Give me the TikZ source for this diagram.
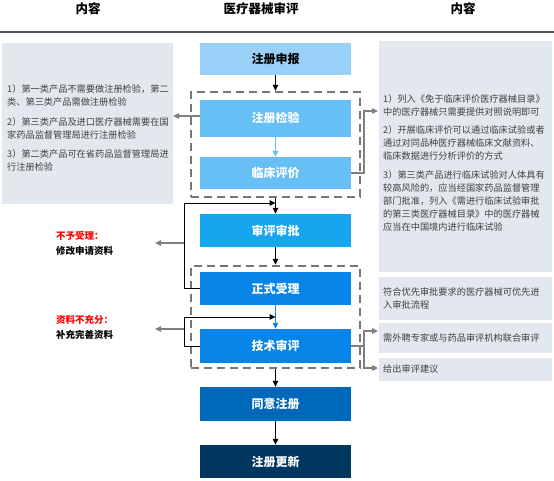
\documentclass[tikz,border=0pt]{standalone}
\usepackage{fontspec}
\setmainfont{Noto Sans CJK SC}
\usetikzlibrary{arrows.meta}
\definecolor{sidegray}{HTML}{E3E8EF}
\definecolor{sidetext}{HTML}{404040}
\definecolor{cA}{HTML}{99D0F7}
\definecolor{cB}{HTML}{66BFF5}
\definecolor{cC}{HTML}{16A6F0}
\definecolor{cD}{HTML}{0784E7}
\definecolor{cE}{HTML}{0068B8}
\definecolor{cF}{HTML}{003761}
\definecolor{dashgray}{HTML}{767676}
\definecolor{arrgray}{HTML}{808080}
\definecolor{hline}{HTML}{555555}
\tikzset{
  flowbox/.style={minimum width=151pt, inner sep=0pt, font=\fontsize{12}{14}\selectfont\bfseries, text=white},
  dashbox/.style={draw=dashgray, line width=2.5pt, dash pattern=on 8pt off 5pt, minimum width=169pt, inner sep=0pt},
  sidebox/.style={fill=sidegray, inner sep=0pt},
  sidepara/.style={anchor=north west, inner sep=0pt, align=left, text=sidetext, font=\fontsize{9.2}{13}\selectfont},
  sideline/.style={anchor=west, inner sep=0pt, text=sidetext, font=\fontsize{9.2}{13}\selectfont},
  head/.style={inner sep=0pt, font=\fontsize{12.5}{14}\selectfont\bfseries},
  blk/.style={draw=black, line width=1pt},
  blkarrow/.style={blk, -{Triangle[length=6pt,width=5.5pt]}},
  gry/.style={draw=arrgray, line width=1.2pt},
  gryarrow/.style={gry, -{Triangle[length=6pt,width=5.5pt]}},
  lbl/.style={anchor=north west, inner sep=0pt, align=left, font=\fontsize{9.5}{15}\selectfont\bfseries},
}
\begin{document}
\begin{tikzpicture}[x=1pt,y=-1pt]
\useasboundingbox (0,0) rectangle (554,480);
% header
\node[head] (h1) at (88,9) {内容};
\node[head] (h2) at (261,9) {医疗器械审评};
\node[head] (h3) at (463,9) {内容};
\coordinate (hl1) at (0,32);
\coordinate (hl2) at (554,32);
\draw[draw=hline, line width=2pt] (hl1) -- (hl2);

% side boxes
\node[sidebox, minimum width=171pt, minimum height=161pt] (L) at (87.5,123.5) {};
\node[sidebox, minimum width=173pt, minimum height=231pt] (R1) at (465.5,156.5) {};
\node[sidebox, minimum width=173pt, minimum height=43pt] (R2) at (465.5,298.5) {};
\node[sidebox, minimum width=173pt, minimum height=30pt] (R3) at (465.5,338) {};
\node[sidebox, minimum width=173pt, minimum height=23pt] (R4) at (465.5,369.5) {};

% left texts
\node[sidepara] (lt1) at (7,84) {1）第一类产品不需要做注册检验，第二\\类、第三类产品需做注册检验};
\node[sidepara] (lt2) at (7,117) {2）第三类产品及进口医疗器械需要在国\\家药品监督管理局进行注册检验};
\node[sidepara] (lt3) at (7,149) {3）第二类产品可在省药品监督管理局进\\行注册检验};

% right texts
\node[sidepara] (rt1) at (383,94) {1）列入《免于临床评价医疗器械目录》\\中的医疗器械只需要提供对照说明即可};
\node[sidepara] (rt2) at (383,125) {2）开展临床评价可以通过临床试验或者\\通过对同品种医疗器械临床文献资料、\\临床数据进行分析评价的方式};
\node[sidepara] (rt3) at (383,170) {3）第三类产品进行临床试验对人体具有\\较高风险的，应当经国家药品监督管理\\部门批准，列入《需进行临床试验审批\\的第三类医疗器械目录》中的医疗器械\\应当在中国境内进行临床试验};
\node[sidepara] (rt4) at (383,288) {符合优先审批要求的医疗器械可优先进\\入审批流程};
\node[sideline] (rt5) at (383,338) {需外聘专家或与药品审评机构联合审评};
\node[sideline] (rt6) at (383,369) {给出审评建议};

% dashed groups
\node[dashbox, minimum height=105pt] (g1) at (275.5,144.5) {};
\node[dashbox, minimum height=102pt] (g2) at (275.5,317) {};

% flow boxes
\node[flowbox, fill=cA, text=black, minimum height=32pt] (sb) at (275.5,59) {注册申报};
\node[flowbox, fill=cB, minimum height=37pt] (jy) at (275.5,118) {注册检验};
\node[flowbox, fill=cB, minimum height=32pt] (lc) at (275.5,173) {临床评价};
\node[flowbox, fill=cC, minimum height=33pt] (sp) at (275.5,230.5) {审评审批};
\node[flowbox, fill=cD, minimum height=33pt] (zs) at (275.5,288.5) {正式受理};
\node[flowbox, fill=cD, minimum height=34pt] (js) at (275.5,346) {技术审评};
\node[flowbox, fill=cE, minimum height=34pt] (ty) at (275.5,404) {同意注册};
\node[flowbox, fill=cF, minimum height=33pt] (gx) at (275.5,461.5) {注册更新};

% left labels
\node[lbl] (lb1) at (56,231) {\textcolor{red}{不予受理：}\\修改申请资料};
\node[lbl] (lb2) at (56,315) {\textcolor{red}{资料不充分：}\\补充完善资料};

% main vertical connectors
\draw[blkarrow] (sb.south) -- (g1.north);
\draw[-{Triangle[length=6pt,width=5.5pt]}, draw=cB, fill=cB, line width=1pt] (jy.south) -- (lc.north);
\draw[blkarrow] (g1.south) -- (sp.north);
\draw[blkarrow] (sp.south) -- (g2.north);
\draw[-{Triangle[length=6pt,width=5.5pt]}, draw=cD, fill=cD, line width=1pt] (zs.south) -- (js.north);
\draw[blkarrow] (g2.south) -- (ty.north);
\draw[blkarrow] (ty.south) -- (gx.north);

% feedback loops
\coordinate (fa) at (184,203);
\coordinate (fb) at (275.5,203);
\coordinate (fc) at (184,243);
\coordinate (fd) at (155,243);
\draw[blkarrow] (zs.west) -| (fa) -- (fb);
\draw[gryarrow] (fc) -- (fd);
\coordinate (fe) at (184,317);
\coordinate (ff) at (275.5,317);
\coordinate (fg) at (184,329);
\coordinate (fh) at (155,329);
\draw[blkarrow] (js.west) -| (fe) -- (ff);
\draw[gryarrow] (fg) -- (fh);

% side connectors
\coordinate (jyl) at (200,116);
\coordinate (jyt) at (173,116);
\draw[gryarrow] (jyl) -- (jyt);
\coordinate (lcr) at (364,173);
\coordinate (lct) at (378,111);
\draw[gryarrow] (lc.east) -- (lcr) |- (lct);
\coordinate (jsr) at (364,346);
\coordinate (jst1) at (378,331);
\coordinate (jst2) at (378,368);
\draw[gry] (js.east) -- (jsr);
\draw[gryarrow] (jsr) |- (jst1);
\draw[gryarrow] (jsr) |- (jst2);
\end{tikzpicture}
\end{document}
